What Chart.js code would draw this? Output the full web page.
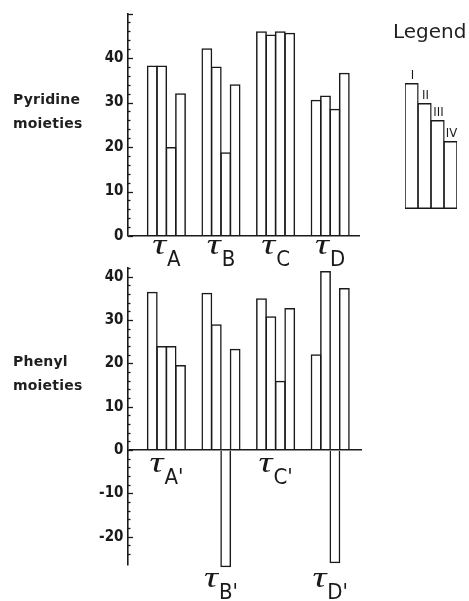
<!DOCTYPE html>
<html><head><meta charset="utf-8">
<script src="https://cdn.jsdelivr.net/npm/chart.js@4.4.1/dist/chart.umd.min.js"></script>
<style>
html,body{margin:0;padding:0;background:#fff;}
#wrap{position:relative;width:469px;height:601px;overflow:hidden;background:#fff;}
canvas{position:absolute;left:0;top:0;}
.lbl{position:absolute;font-family:'DejaVu Sans',sans-serif;font-weight:bold;font-size:14px;line-height:14px;color:#1f1f1f;white-space:nowrap;letter-spacing:0.2px;}
#legendTitle{position:absolute;left:393px;top:21px;font-family:'DejaVu Sans',sans-serif;font-size:20px;line-height:20px;color:#1f1f1f;white-space:nowrap;}
</style></head><body>
<div id="wrap">
<canvas id="c1" width="469" height="601"></canvas>
<canvas id="c2" width="469" height="601"></canvas>
<canvas id="c3" width="469" height="601"></canvas>
<div class="lbl" style="left:13px;top:92px">Pyridine</div>
<div class="lbl" style="left:13px;top:116px">moieties</div>
<div class="lbl" style="left:13px;top:354px">Phenyl</div>
<div class="lbl" style="left:13px;top:378px">moieties</div>
<div id="legendTitle">Legend</div>
</div>
<script>
// ---- data ----
const seriesNames = ['I', 'II', 'III', 'IV'];
const pyridineGroups = ['A', 'B', 'C', 'D'];
const phenylGroups = ["A'", "B'", "C'", "D'"];
const pyridineI   = [38.3, 42.2, 46.0, 30.6];
const pyridineII  = [38.3, 38.1, 45.3, 31.6];
const pyridineIII = [20.0, 18.8, 46.0, 28.6];
const pyridineIV  = [32.1, 34.1, 45.7, 36.7];
const phenylI   = [36.5, 36.3, 35.0, 22.1];
const phenylII  = [24.0, 29.0, 30.9, 41.3];
const phenylIII = [24.0, -27.0, 16.0, -26.1];
const phenylIV  = [19.6, 23.4, 32.8, 37.4];
const pyridineTicks = [0, 10, 20, 30, 40];
const phenylTicks = [-20, -10, 0, 10, 20, 30, 40];
const legendHeights = [126, 106, 89, 68];

// ---- style ----
const INK = '#1a1a1a';
const TAU_FONT = "italic 30px 'Liberation Serif', 'DejaVu Serif', serif";
const SUB_FONT = "22px 'Liberation Sans Narrow', 'DejaVu Sans Condensed', sans-serif";
const TICK_FONT = {family: "'DejaVu Sans Condensed', 'DejaVu Sans', sans-serif", size: 15, weight: 'bold'};

function toPoints(arr) { return arr.map((v, i) => ({x: i, y: v})); }

function makeDatasets(series) {
  return series.map((arr, k) => ({
    label: seriesNames[k],
    data: toPoints(arr),
    backgroundColor: 'rgba(0,0,0,0)',
    borderColor: INK,
    borderWidth: 1.5,
    clip: false,
    categoryPercentage: 0.69,
    barPercentage: 1.15
  }));
}

function decorPlugin(groups, gap) {
  return {
    id: 'decor',
    afterDraw(chart) {
      const ctx = chart.ctx, y = chart.scales.y, x = chart.scales.x, area = chart.chartArea;
      ctx.save();
      ctx.strokeStyle = INK; ctx.lineWidth = 1.3;
      y.ticks.forEach(t => {
        const v = t.value;
        if (Math.abs(v % 2) > 1e-6) return;
        const py = Math.round(y.getPixelForValue(v)) + 0.5;
        const len = (Math.abs(v % 10) < 1e-6) ? 5 : 2.5;
        ctx.beginPath(); ctx.moveTo(area.left, py); ctx.lineTo(area.left + len, py); ctx.stroke();
      });
      ctx.fillStyle = INK;
      ctx.textAlign = 'left'; ctx.textBaseline = 'alphabetic';
      groups.forEach((g, i) => {
        const vals = chart.data.datasets.map(d => d.data[i].y);
        const anchor = Math.min(...vals) < 0 ? area.bottom : y.getPixelForValue(0);
        const cx = x.getPixelForValue(i);
        ctx.font = TAU_FONT;
        const m = ctx.measureText('τ');
        const tauW = m.width * 1.3;
        const tauBase = anchor + gap + m.actualBoundingBoxAscent;
        ctx.font = SUB_FONT;
        const sw = ctx.measureText(g).width;
        const sx = cx - (tauW + 1 + sw) / 2;
        ctx.save(); ctx.translate(sx, tauBase); ctx.scale(1.3, 1);
        ctx.font = TAU_FONT; ctx.fillText('τ', 0, 0); ctx.restore();
        ctx.font = SUB_FONT; ctx.fillText(g, sx + tauW + 1, tauBase + 12);
      });
      ctx.restore();
    }
  };
}

function barOptions(padding, yMin, yMax, xMax, shown) {
  return {
    responsive: false, animation: false, devicePixelRatio: 1,
    layout: {padding},
    plugins: {legend: {display: false}, tooltip: {enabled: false}},
    scales: {
      x: {type: 'linear', display: false, offset: false, grid: {offset: false},
          min: -0.703, max: xMax,
          ticks: {stepSize: 1, includeBounds: false}},
      y: {min: yMin, max: yMax,
          afterFit(s) { s.width = 128; },
          border: {display: true, color: INK, width: 1.6},
          grid: {drawTicks: false, drawOnChartArea: true, lineWidth: 1.5,
                 color: c => (c.tick && c.tick.value === 0) ? INK : 'rgba(0,0,0,0)'},
          ticks: {stepSize: 2, autoSkip: false, padding: 4.5, color: INK, font: TICK_FONT,
                  callback: v => shown.includes(v) ? String(v) : ''}}
    }
  };
}

new Chart(document.getElementById('c1'), {
  type: 'bar',
  data: {datasets: makeDatasets([pyridineI, pyridineII, pyridineIII, pyridineIV])},
  options: barOptions({left: 0, top: 13, right: 109, bottom: 365}, 0, 50, 3.546, pyridineTicks),
  plugins: [decorPlugin(pyridineGroups, 4)]
});

new Chart(document.getElementById('c2'), {
  type: 'bar',
  data: {datasets: makeDatasets([phenylI, phenylII, phenylIII, phenylIV])},
  options: barOptions({left: 0, top: 268, right: 107, bottom: 36}, -26.5, 42, 3.582, phenylTicks),
  plugins: [decorPlugin(phenylGroups, 8)]
});

new Chart(document.getElementById('c3'), {
  type: 'bar',
  data: {labels: seriesNames, datasets: [{
    data: legendHeights, backgroundColor: 'rgba(0,0,0,0)', borderColor: INK,
    borderWidth: 1.4, borderSkipped: false, categoryPercentage: 1, barPercentage: 1.1
  }]},
  options: {
    responsive: false, animation: false, devicePixelRatio: 1,
    layout: {padding: {left: 405, right: 12, top: 79, bottom: 392}},
    plugins: {legend: {display: false}, tooltip: {enabled: false}},
    scales: {x: {display: false}, y: {display: false, min: 0, max: 130}}
  },
  plugins: [{
    id: 'numerals',
    afterDraw(chart) {
      const ctx = chart.ctx, meta = chart.getDatasetMeta(0);
      ctx.save();
      ctx.fillStyle = INK;
      ctx.font = "13px 'Liberation Sans Narrow', 'DejaVu Sans Condensed', sans-serif";
      ctx.textAlign = 'center'; ctx.textBaseline = 'alphabetic';
      meta.data.forEach((el, i) => ctx.fillText(chart.data.labels[i], el.x + 1, el.y - 4));
      ctx.restore();
    }
  }]
});
</script>
</body></html>
